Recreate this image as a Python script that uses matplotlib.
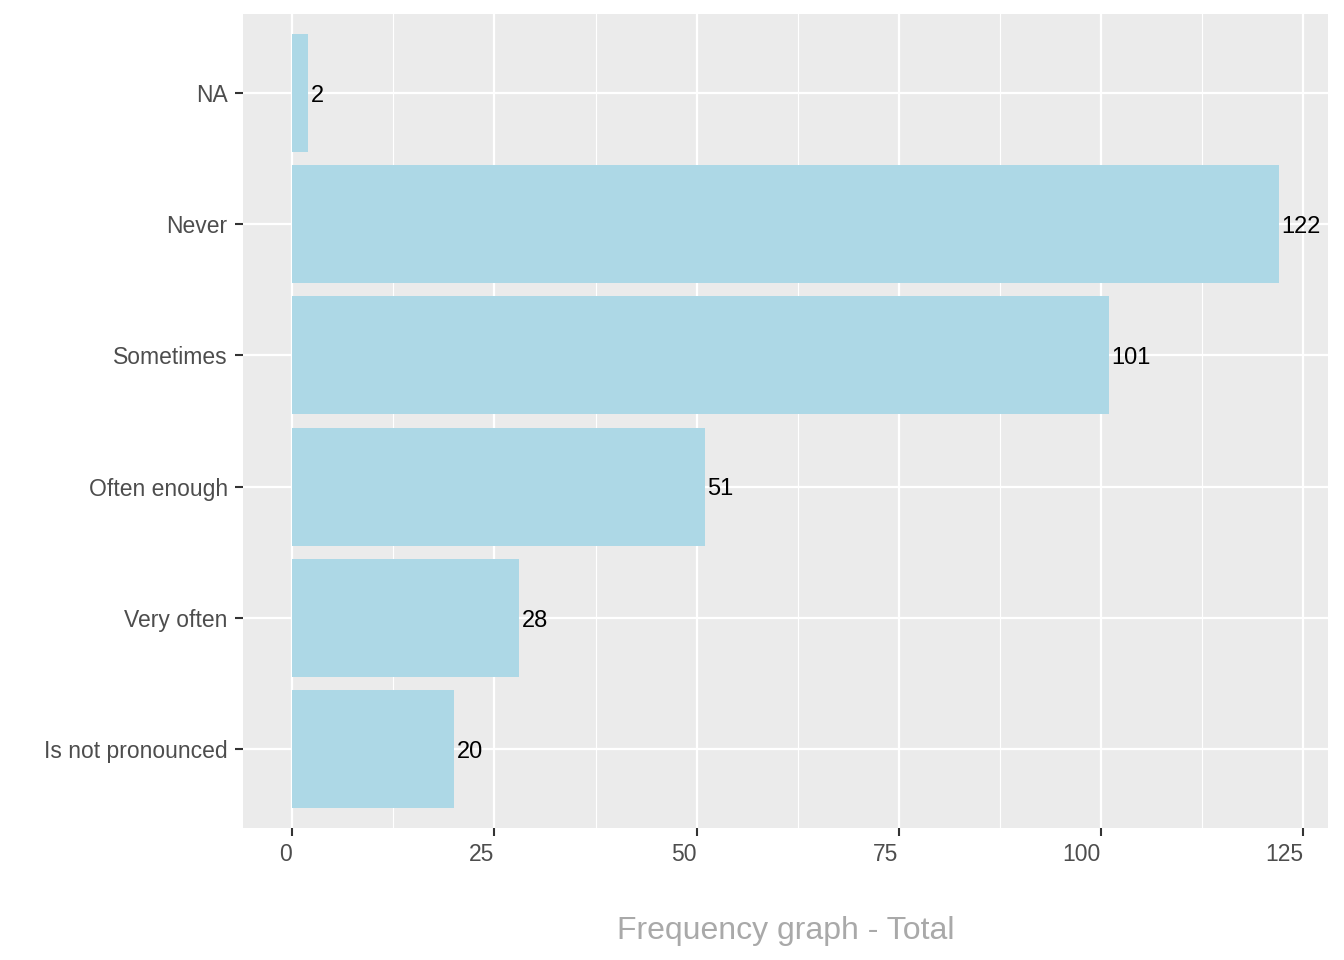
import matplotlib.pyplot as plt
from matplotlib.ticker import MultipleLocator

plt.rcParams['font.family'] = ['Liberation Sans', 'DejaVu Sans']

categories = ["Is not pronounced", "Very often", "Often enough", "Sometimes", "Never", "NA"]
counts = [20, 28, 51, 101, 122, 2]
xticks = [0, 25, 50, 75, 100, 125]

fig = plt.figure(figsize=(13.44, 9.6), dpi=100)
ax = fig.add_axes([243 / 1344, 1 - 828 / 960, (1328 - 243) / 1344, (828 - 14) / 960])

ax.set_facecolor("#EBEBEB")
for s in ax.spines.values():
    s.set_visible(False)

ypos = list(range(1, len(categories) + 1))
ax.barh(ypos, counts, height=0.9, color="#ADD8E6", zorder=3)
for y, v in zip(ypos, counts):
    ax.annotate(str(v), (v, y), xytext=(2, -2), textcoords="offset points",
                ha="left", va="center", fontsize=17, color="black", zorder=4)

top = max(counts)
ax.set_xlim(-0.05 * top, top * 1.05)
ax.set_ylim(0.4, len(categories) + 0.6)

ax.set_yticks(ypos)
ax.set_yticklabels(categories)
ax.set_xticks(xticks)
ax.set_xticklabels([str(t) for t in xticks], ha="right")
ax.xaxis.set_minor_locator(MultipleLocator(12.5))

ax.tick_params(axis="both", which="major", length=6, width=1.5, color="#333333",
               labelsize=16.5, labelcolor="#4D4D4D", pad=5)
ax.tick_params(axis="x", which="minor", length=0)

ax.grid(True, which="major", color="white", linewidth=1.6, zorder=1)
ax.grid(True, which="minor", axis="x", color="white", linewidth=0.8, zorder=1)
ax.set_axisbelow(True)

ax.set_xlabel("Frequency graph - Total", fontsize=23, color="#A9A9A9", labelpad=36)

fig.savefig("out.png", dpi=100)
